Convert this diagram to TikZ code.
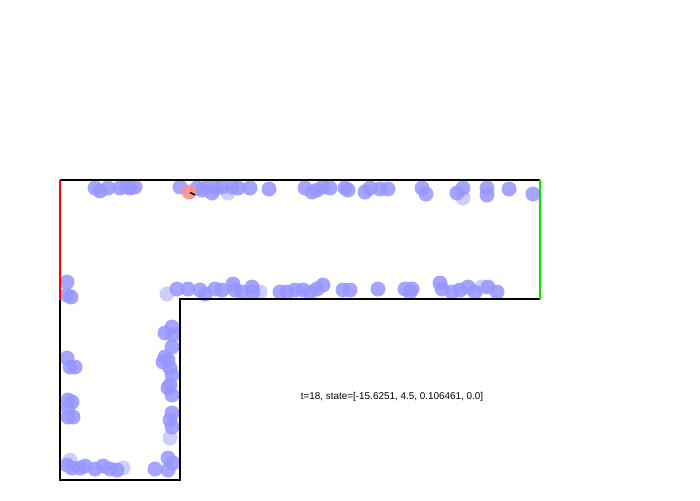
\documentclass[tikz,border=0pt]{standalone}
\usepackage{fontspec}
\setmainfont{Liberation Sans}
\definecolor{partblue}{RGB}{150,150,255}
\definecolor{robotred}{RGB}{250,145,140}
\definecolor{wallred}{RGB}{255,0,0}
\definecolor{wallgreen}{RGB}{0,230,0}

\begin{document}
\begin{tikzpicture}[x=1pt,y=-1pt]
    \useasboundingbox[fill=white] (0,0) rectangle (700,500);
    % particles
    \foreach \px/\py in {95/188,100/191,108/188,120/188,127/187,130/188,135/187,
        180/187,197/188,202/190,207/187,212/193,216/188,222/187,232/187,238/188,250/188,269/189,
        305/188,312/192,317/190,323/187,330/188,345/188,348/190,365/192,370/188,380/189,388/189,
        422/188,426/194,457/193,463/188,487/188,487/195,509/189,533/194,
        177/289,188/289,200/290,205/294,215/289,222/290,233/284,235/290,242/292,252/287,253/292,
        280/292,287/292,295/290,303/290,310/292,317/289,323/285,343/290,350/290,
        378/289,405/289,412/289,410/292,440/283,442/289,452/292,460/290,468/287,475/292,488/287,497/292,
        67/282,67/295,71/297,67/358,70/367,75/367,68/400,72/402,68/408,68/417,73/417,
        67/465,72/468,80/468,85/466,95/469,103/466,110/469,117/470,
        172/327,165/333,173/335,172/347,165/357,168/360,163/362,170/368,172/375,
        170/385,168/388,172/395,172/413,170/420,172/427,168/458,173/463,155/469,168/470}
      \fill[partblue, opacity=0.85] (\px,\py) circle (7.5);
    \foreach \px/\py in {167/294,260/292,482/287,228/193,463/198,123/468,170/438,70/460}
      \fill[partblue, opacity=0.45] (\px,\py) circle (7.5);
    % robot
    \fill[robotred, opacity=0.9] (189,192) circle (7.5);
    \draw[line width=1.4pt, black] (190,192.5) -- (195,195);
    % walls
    \coordinate (tl) at (60,180);
    \coordinate (tr) at (540,180);
    \coordinate (ml) at (60,300);
    \coordinate (mr) at (540,299);
    \coordinate (ic) at (180,299);
    \coordinate (bl) at (60,480);
    \coordinate (br) at (180,480);
    \draw[line width=2pt, black] (tl) -- (tr);
    \draw[line width=2pt, black] (mr) -- (ic) -- (br) -- (bl) -- (ml);
    \draw[line width=2pt, wallred] (tl) -- (ml);
    \draw[line width=2pt, wallgreen] (tr) -- (mr);
    \node[font=\fontsize{9.9}{11}\selectfont, inner sep=0pt] (label) at (392,397) {t=18, state=[-15.6251, 4.5, 0.106461, 0.0]};
  \end{tikzpicture}
\end{document}
